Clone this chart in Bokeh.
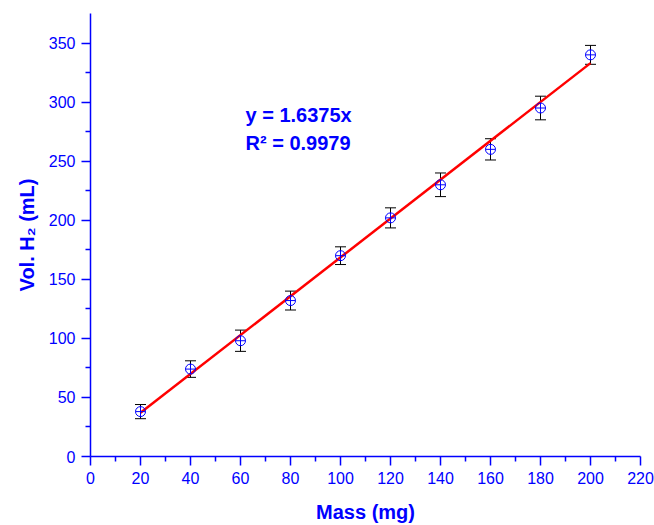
from bokeh.plotting import figure
from bokeh.models import ColumnDataSource, Whisker, TeeHead, Label, Range1d, FixedTicker
from bokeh.embed import file_html
from bokeh.resources import INLINE

mass = [20, 40, 60, 80, 100, 120, 140, 160, 180, 200]
vol = [38, 74, 98, 132, 170, 202, 230, 260, 295, 340]
err = [6, 7, 9, 8, 7.5, 8.5, 10, 9, 10, 8]
slope = 1.6375
r2 = 0.9979
fit_x = [20, 200]
fit_y = [37, 333]
x_ticks = list(range(0, 221, 20))
y_ticks = list(range(0, 351, 50))

BLUE = "#0000ff"
FONT = "Liberation Sans"

src = ColumnDataSource(dict(
    x=mass, y=vol,
    upper=[v + e for v, e in zip(vol, err)],
    lower=[v - e for v, e in zip(vol, err)],
))

p = figure(width=654, height=525, frame_width=550, frame_height=443,
           min_border_left=90, min_border_right=14, min_border_top=13, min_border_bottom=69,
           x_range=Range1d(0, 220), y_range=Range1d(0, 375),
           output_backend="svg", toolbar_location=None)
p.outline_line_color = None
p.xgrid.visible = False
p.ygrid.visible = False

p.line(fit_x, fit_y, line_color="#ff0000", line_width=2.5)

w = Whisker(source=src, base="x", upper="upper", lower="lower",
            line_color="black", line_width=1,
            upper_head=TeeHead(size=11, line_color="black", line_width=1),
            lower_head=TeeHead(size=11, line_color="black", line_width=1))
p.add_layout(w)

p.scatter("x", "y", source=src, marker="circle_cross", size=10,
          line_color=BLUE, fill_color=None, line_width=1)

for ax, ticks, minor in ((p.xaxis[0], x_ticks, list(range(10, 220, 20))),
                         (p.yaxis[0], y_ticks, list(range(25, 375, 50)))):
    ax.ticker = FixedTicker(ticks=ticks, minor_ticks=minor)
    ax.axis_line_color = BLUE
    ax.axis_line_width = 1.5
    ax.major_tick_line_color = BLUE
    ax.minor_tick_line_color = BLUE
    ax.major_tick_line_width = 1.5
    ax.minor_tick_line_width = 1.5
    ax.major_tick_out = 9
    ax.major_tick_in = 0
    ax.minor_tick_out = 5
    ax.minor_tick_in = 0
    ax.major_label_text_color = BLUE
    ax.major_label_text_font = FONT
    ax.major_label_text_font_size = "16px"
    ax.axis_label_text_color = BLUE
    ax.axis_label_text_font = FONT
    ax.axis_label_text_font_size = "20px"
    ax.axis_label_text_font_style = "bold"

p.xaxis.axis_label = "Mass (mg)"
p.yaxis.axis_label = "Vol. H\u2082 (mL)"
p.xaxis.major_label_standoff = 6
p.yaxis.major_label_standoff = 6
p.xaxis.axis_label_standoff = 14
p.yaxis.axis_label_standoff = 8

p.add_layout(Label(x=62, y=289, text=f"y = {slope}x", text_color=BLUE,
                   text_font=FONT, text_font_size="20px", text_font_style="bold",
                   text_baseline="middle"))
p.add_layout(Label(x=62, y=265, text=f"R\u00b2 = {r2}", text_color=BLUE,
                   text_font=FONT, text_font_size="20px", text_font_style="bold",
                   text_baseline="middle"))

open("out.html", "w").write(file_html(p, INLINE))
